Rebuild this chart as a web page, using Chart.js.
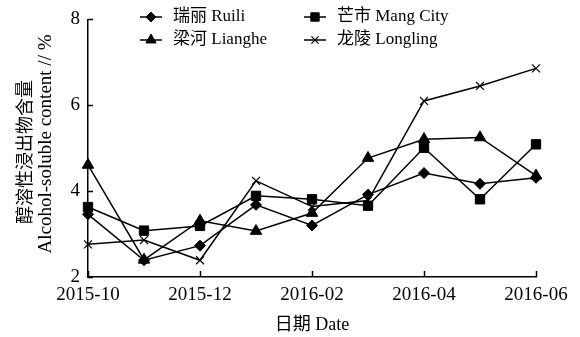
<!DOCTYPE html>
<html>
<head>
<meta charset="utf-8">
<script src="https://cdn.jsdelivr.net/npm/chart.js@4/dist/chart.umd.min.js"></script>
<style>
  html, body { margin: 0; padding: 0; background: #fff; }
  #wrap { width: 580px; height: 337px; }
</style>
</head>
<body>
<div id="wrap"><canvas id="c" width="580" height="337"></canvas></div>
<script>
// Sampling months (x categories)
const months = ['2015-10', '2015-11', '2015-12', '2016-01', '2016-02', '2016-03', '2016-04', '2016-05', '2016-06'];
// Alcohol-soluble extract content (%) per site
const ruili    = [3.46, 2.39, 2.73, 3.68, 3.20, 3.92, 4.42, 4.17, 4.31];
const mangCity = [3.63, 3.08, 3.19, 3.89, 3.81, 3.66, 5.01, 3.81, 5.09];
const lianghe  = [4.61, 2.40, 3.31, 3.07, 3.49, 4.77, 5.21, 5.25, 4.36];
const longling = [2.76, 2.86, 2.39, 4.24, 3.64, 3.78, 6.10, 6.45, 6.86];
// Series names
const seriesNames = ['瑞丽 Ruili', '芒市 Mang City', '梁河 Lianghe', '龙陵 Longling'];
// Y tick values
const yTicks = [2, 4, 6, 8];

const serif = '"Liberation Serif", "Noto Sans CJK SC", serif';
const ink = '#000';

const styles = [
  { pointStyle: 'rectRot', pointRadius: 5.5 },
  { pointStyle: 'rect', pointRadius: 6.6 },
  { pointStyle: 'triangle', pointRadius: 6.6 },
  { pointStyle: 'crossRot', pointRadius: 5.6 }
];
const seriesData = [ruili, mangCity, lianghe, longling];

const datasets = seriesData.map((d, i) => ({
  label: seriesNames[i],
  data: d,
  borderColor: ink,
  backgroundColor: ink,
  borderWidth: 1.5,
  pointStyle: styles[i].pointStyle,
  pointRadius: styles[i].pointRadius,
  pointHoverRadius: styles[i].pointRadius,
  pointBorderWidth: i === 3 ? 1.2 : 1,
  pointBackgroundColor: ink,
  pointBorderColor: ink,
  tension: 0,
  clip: false
}));

// Inward tick marks, two-column legend and axis titles
const decor = {
  id: 'decor',
  afterDraw(chart) {
    const ctx = chart.ctx;
    const xs = chart.scales.x, ys = chart.scales.y;
    const a = chart.chartArea;
    ctx.save();
    ctx.strokeStyle = ink;
    ctx.lineWidth = 1.5;
    // y ticks pointing into the plot
    yTicks.forEach(v => {
      const y = Math.round(ys.getPixelForValue(v)) + 0.5;
      ctx.beginPath();
      ctx.moveTo(a.left, y);
      ctx.lineTo(a.left + 5, y);
      ctx.stroke();
    });
    // x ticks pointing into the plot (every second month)
    months.forEach((m, i) => {
      if (i % 2 !== 0) return;
      const x = Math.round(xs.getPixelForValue(i)) + 0.5;
      ctx.beginPath();
      ctx.moveTo(x, a.bottom);
      ctx.lineTo(x, a.bottom - 6);
      ctx.stroke();
    });

    // legend
    const legendPos = [
      { x: 140, y: 17 }, { x: 304, y: 17 },
      { x: 140, y: 40 }, { x: 304, y: 40 }
    ];
    legendPos.forEach((p, i) => {
      ctx.strokeStyle = ink;
      ctx.lineWidth = 1.5;
      ctx.beginPath();
      ctx.moveTo(p.x, p.y);
      ctx.lineTo(p.x + 22, p.y);
      ctx.stroke();
      ctx.fillStyle = ink;
      ctx.lineWidth = i === 3 ? 1.2 : 1;
      Chart.helpers.drawPoint(ctx, {
        pointStyle: styles[i].pointStyle,
        radius: styles[i].pointRadius * 0.9,
        rotation: 0,
        borderWidth: 1
      }, p.x + 11, p.y);
      ctx.fillStyle = ink;
      ctx.font = '17px ' + serif;
      ctx.textBaseline = 'middle';
      ctx.textAlign = 'left';
      ctx.fillText(seriesNames[i], p.x + 33, p.y);
    });

    // x axis title
    ctx.fillStyle = ink;
    ctx.font = '18px ' + serif;
    ctx.textAlign = 'center';
    ctx.textBaseline = 'middle';
    ctx.fillText('日期 Date', (a.left + a.right) / 2, 325);

    // y axis title, two rotated lines
    ctx.save();
    ctx.translate(24, 152);
    ctx.rotate(-Math.PI / 2);
    ctx.font = '18px "Noto Sans CJK SC", sans-serif';
    ctx.fillText('醇溶性浸出物含量', 0, 0);
    ctx.restore();
    ctx.save();
    ctx.translate(46, 144);
    ctx.rotate(-Math.PI / 2);
    ctx.font = '19px ' + serif;
    ctx.fillText('Alcohol-soluble content // %', 0, 0);
    ctx.restore();

    ctx.restore();
  }
};

new Chart(document.getElementById('c'), {
  type: 'line',
  data: { labels: months, datasets },
  options: {
    responsive: false,
    devicePixelRatio: 1,
    animation: false,
    layout: { padding: { top: 16, right: 44, left: 0, bottom: 0 } },
    plugins: { legend: { display: false }, tooltip: { enabled: false } },
    scales: {
      x: {
        type: 'category',
        offset: false,
        grid: { display: false, tickLength: 0 },
        border: { display: true, color: ink, width: 1.5 },
        ticks: {
          autoSkip: false,
          maxRotation: 0,
          padding: 7,
          color: ink,
          font: { family: serif, size: 19 },
          callback: (v, i) => (i % 2 === 0 ? months[i] : '')
        },
        afterFit: s => { s.height = 60; }
      },
      y: {
        min: 2,
        max: 8,
        grid: { display: false, tickLength: 0 },
        border: { display: true, color: ink, width: 1.5 },
        ticks: {
          stepSize: 2,
          padding: 8,
          color: ink,
          font: { family: serif, size: 19 },
          callback: v => (yTicks.includes(v) ? String(v) : '')
        },
        afterFit: s => { s.width = 88; }
      }
    }
  },
  plugins: [decor]
});
</script>
</body>
</html>
